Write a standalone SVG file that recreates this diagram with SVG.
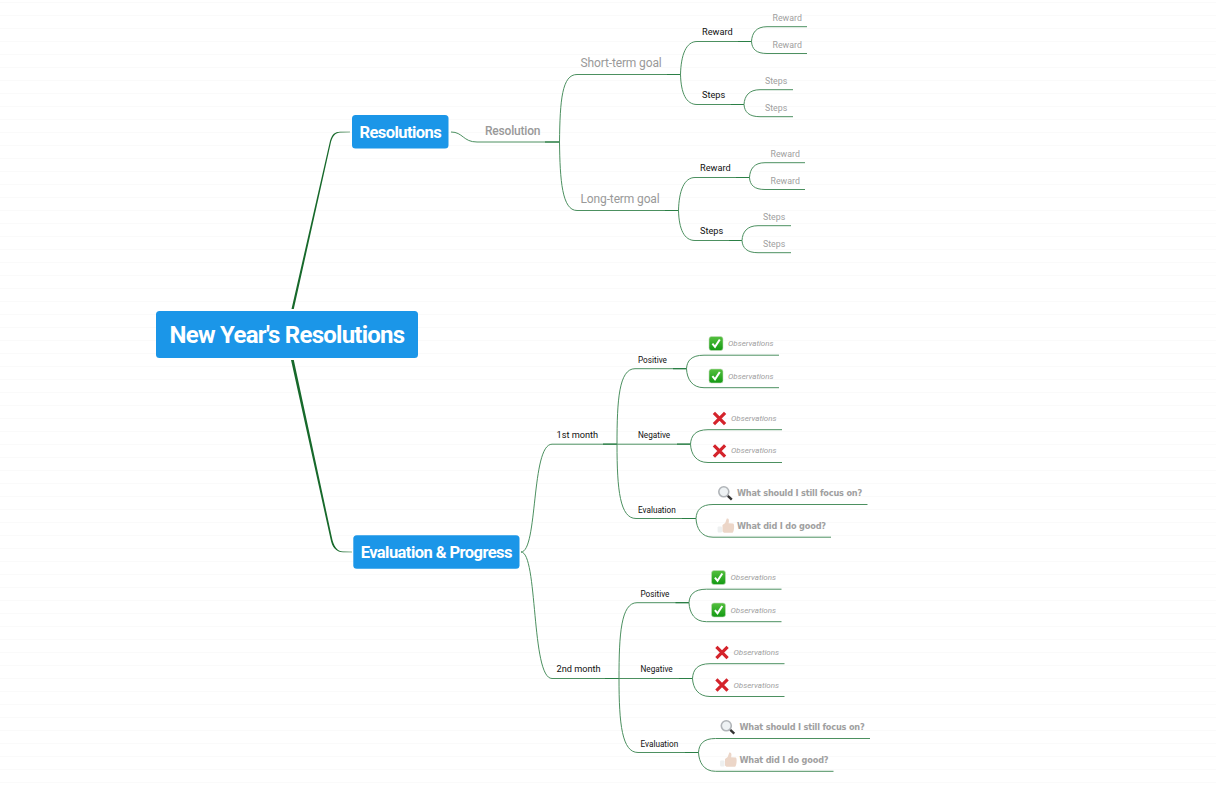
<svg xmlns="http://www.w3.org/2000/svg" width="1216" height="787" viewBox="0 0 1216 787">
<style>
text{font-family:Roboto,"Liberation Sans",sans-serif}
.grid{stroke:#fafafa;stroke-width:1}
.node{fill:#1b96e8}
.c{fill:none;stroke:#4c9060;stroke-width:1}
.d{fill:none;stroke:#2a7f45;stroke-width:1.2}
.main{fill:#17692b;stroke:none}
.root{fill:#fff;font-size:24px;font-weight:700;letter-spacing:-.75px;text-anchor:middle}
.n1{fill:#fff;font-size:16.5px;font-weight:700;letter-spacing:-.56px;text-anchor:middle}
.g12{fill:#999;font-size:12px;letter-spacing:-.13px}
.gb{fill:#999;font-size:12px;font-weight:500;letter-spacing:-.2px}
.k9{fill:#111;font-size:9.2px}
.k8{fill:#111;font-size:8.2px}
.g9{fill:#a0a0a0;font-size:8.8px}
.ob{fill:#a0a0a0;font-size:8px;font-style:italic}
.q{fill:#a0a0a0;font-size:8.2px;font-weight:700;letter-spacing:-.19px;font-family:"DejaVu Sans",sans-serif}
</style>
<defs>
<linearGradient id="gr" x1="0" y1="0" x2="0" y2="1"><stop offset="0" stop-color="#55c03f"/><stop offset="1" stop-color="#129a12"/></linearGradient>
<g id="check"><rect x="-7" y="-7" width="14" height="14" rx="2.5" fill="url(#gr)" stroke="#c4dcbe" stroke-width=".6"/><path d="M-3.6,0.2 L-1,3.4 L3.8,-4" fill="none" stroke="#fff" stroke-width="2"/></g>
<g id="cross"><path d="M-5.6,-5.6 L5.6,5.6 M5.6,-5.6 L-5.6,5.6" fill="none" stroke="#d4232b" stroke-width="3.2"/></g>
<g id="mag"><circle cx="-1.2" cy="-1.2" r="5" fill="#eef2f4" stroke="#b0b4b8" stroke-width="1.6"/><path d="M2.8,2.8 L6.8,6.6" stroke="#333" stroke-width="2.4"/></g>
<g id="thumb"><path d="M-3.5,-1 L-0.8,-3 L0.8,-7.5 C2.8,-8 3.4,-6 2.6,-2.8 L7.2,-2.6 C8.8,-2.2 8.2,5.4 6.6,6.8 L-2,6.8 L-3.5,5.5 Z" fill="#ecd6c8"/><rect x="-8.4" y="0.5" width="4.4" height="6" rx="1" fill="#eef0f0"/></g>
</defs>
<rect width="1216" height="787" fill="#fff"/>
<g id="background">
<path class="grid" d="M0,2.500H1216M0,15.500H1216M0,28.500H1216M0,41.500H1216M0,54.500H1216M0,67.500H1216M0,80.500H1216M0,93.500H1216M0,106.500H1216M0,119.500H1216M0,132.500H1216M0,145.500H1216M0,158.500H1216M0,171.500H1216M0,184.500H1216M0,197.500H1216M0,210.500H1216M0,223.500H1216M0,236.500H1216M0,249.500H1216M0,262.500H1216M0,275.500H1216M0,288.500H1216M0,301.500H1216M0,314.500H1216M0,327.500H1216M0,340.500H1216M0,353.500H1216M0,366.500H1216M0,379.500H1216M0,392.500H1216M0,405.500H1216M0,418.500H1216M0,431.500H1216M0,444.500H1216M0,457.500H1216M0,470.500H1216M0,483.500H1216M0,496.500H1216M0,509.500H1216M0,522.500H1216M0,535.500H1216M0,548.500H1216M0,561.500H1216M0,574.500H1216M0,587.500H1216M0,600.500H1216M0,613.500H1216M0,626.500H1216M0,639.500H1216M0,652.500H1216M0,665.500H1216M0,678.500H1216M0,691.500H1216M0,704.500H1216M0,717.500H1216M0,730.500H1216M0,743.500H1216M0,756.500H1216M0,769.500H1216M0,782.500H1216"/>
</g>
<g id="connectors">
<path class="main" d="M291.500,309 L293.800,309 L331,142 C333,135 336,132.800 340,132.500 L350,132.300 L350,131.700 L340,131.700 C335,131.800 332,134 330,141 Z"/>
<path class="main" d="M291,360 L293.800,360 L331.800,537 C333.500,546 337,551.300 343,551.500 L352,551.700 L352,552.300 L343,552.300 C336,552 332,547 330.500,539 Z"/>
<path class="c" d="M451,132 C463,132 463,142 477,142 L559.500,142"/>
<path class="d" d="M545,142 H559.500"/>
<path class="c" d="M559.500,142 C560,100 562,74.500 577,74.500 H680.500"/>
<path class="c" d="M559.500,142 C560,180 562,210.500 577,210.500 H678.500"/>
<path class="d" d="M667,74.500 H680.500 M665,210.500 H678.500"/>
<path class="c" d="M680.500,74.500 C681,55 686,41.500 697,41.500 H751.500 M680.500,74.500 C681,93 686,104.500 697,104.500 H744"/>
<path class="d" d="M738,41.500 H751.500 M731,104.500 H744"/>
<path class="c" d="M751.500,41.500 C752,33 756,26.700 767,26.700 H807 M751.500,41.500 C752,49 756,53.500 767,53.500 H807"/>
<path class="c" d="M744,104.500 C744.500,96 749,89.700 760,89.700 H793 M744,104.500 C744.500,112 749,116.700 760,116.700 H793"/>
<path class="c" d="M678.500,210.500 C679,191 684,177.500 695,177.500 H749.500 M678.500,210.500 C679,229 684,240.500 695,240.500 H742"/>
<path class="d" d="M736,177.500 H749.500 M729,240.500 H742"/>
<path class="c" d="M749.500,177.500 C750,169 754,162.700 765,162.700 H805 M749.500,177.500 C750,185 754,189.500 765,189.500 H805"/>
<path class="c" d="M742,240.500 C742.500,232 747,225.700 758,225.700 H791 M742,240.500 C742.500,248 747,252.700 758,252.700 H791"/>
<path class="c" d="M521,552 C538,552 531,444.200 552,444.200 H617"/>
<path class="c" d="M521,552 C538,552 531,678.500 552,678.500 H619"/>
<path class="d" d="M603,444.200 H617 M605,678.500 H619"/>
<path class="c" d="M617,444.200 C617,400 619,368.700 635,368.700 H686.500 M617,444.200 H690.500 M617,444.200 C617,490 620,518.500 636,518.500 H696"/>
<path class="d" d="M673,368.700 H686.500 M677,444.200 H690.500 M682,518.500 H696"/>
<path class="c" d="M686.500,368.700 C687,361 691,355.200 704,355.200 H779 M686.500,368.700 C687,379 692,387.700 704,387.700 H779"/>
<path class="c" d="M690.500,444.200 C691,436 695,429.700 708,429.700 H782 M690.500,444.200 C691,454 696,462.500 708,462.500 H782"/>
<path class="c" d="M696,518.500 C696.500,510 701,504.500 713,504.500 H867.500 M696,518.500 C696.500,528 701,537.200 713,537.200 H831"/>
<path class="c" d="M619,678.500 C619,634 621,602.700 637,602.700 H689 M619,678.500 H692.500 M619,678.500 C619,724 622,752.500 638,752.500 H698.500"/>
<path class="d" d="M675.500,602.700 H689 M679,678.500 H692.500 M685,752.500 H698.500"/>
<path class="c" d="M689,602.700 C689.500,595 693.500,589.200 706.500,589.200 H781.500 M689,602.700 C689.500,613 694.500,621.700 706.500,621.700 H781.500"/>
<path class="c" d="M692.500,678.500 C693,670 697,663.700 710,663.700 H784.500 M692.500,678.500 C693,688 698,696.500 710,696.500 H784.500"/>
<path class="c" d="M698.500,752.500 C699,744 703.500,738.500 715.500,738.500 H870 M698.500,752.500 C699,762 703.500,771.300 715.500,771.300 H833.500"/>
</g>
<g id="root"><rect class="node" x="156" y="311" width="262" height="47" rx="3.500"/><text class="root" x="287" y="342.500">New Year's Resolutions</text></g>
<g id="resolutions"><rect class="node" x="352" y="115" width="96.500" height="33.500" rx="3.500"/><text class="n1" x="400.300" y="138">Resolutions</text></g>
<g id="evaluation"><rect class="node" x="353.300" y="535.300" width="166.200" height="33.500" rx="3.500"/><text class="n1" x="436.300" y="557.500">Evaluation &amp; Progress</text></g>
<g id="resolution-label"><text class="gb" x="485" y="135">Resolution</text></g>
<g id="short-term"><text class="g12" x="580.500" y="67">Short-term goal</text></g>
<g id="long-term"><text class="g12" x="580.500" y="203">Long-term goal</text></g>
<g id="st-reward"><text class="k9" x="702" y="35">Reward</text><text class="g9" x="772.500" y="21">Reward</text><text class="g9" x="772.500" y="48">Reward</text></g>
<g id="st-steps"><text class="k9" x="702" y="98">Steps</text><text class="g9" x="765" y="84">Steps</text><text class="g9" x="765" y="111">Steps</text></g>
<g id="lt-reward"><text class="k9" x="700" y="171">Reward</text><text class="g9" x="770.500" y="157">Reward</text><text class="g9" x="770.500" y="184">Reward</text></g>
<g id="lt-steps"><text class="k9" x="700" y="234">Steps</text><text class="g9" x="763" y="220">Steps</text><text class="g9" x="763" y="247">Steps</text></g>
<g id="month1"><text class="k9" x="556.500" y="438">1st month</text></g>
<g id="month2"><text class="k9" x="556.500" y="672">2nd month</text></g>
<g id="m1-positive"><text class="k8" x="638" y="363">Positive</text>
<use href="#check" x="716" y="343.500"/><text class="ob" x="728" y="346">Observations</text>
<use href="#check" x="716" y="376"/><text class="ob" x="728" y="379">Observations</text></g>
<g id="m1-negative"><text class="k8" x="638" y="438">Negative</text>
<use href="#cross" x="719.500" y="418.500"/><text class="ob" x="731" y="421">Observations</text>
<use href="#cross" x="719.500" y="451"/><text class="ob" x="731" y="453">Observations</text></g>
<g id="m1-evaluation"><text class="k8" x="638" y="513">Evaluation</text>
<use href="#mag" x="725" y="493"/><text class="q" x="737" y="496">What should I still focus on?</text>
<use href="#thumb" x="726" y="526"/><text class="q" x="737" y="529">What did I do good?</text></g>
<g id="m2-positive"><text class="k8" x="640.500" y="597">Positive</text>
<use href="#check" x="718.500" y="577.500"/><text class="ob" x="730.500" y="580">Observations</text>
<use href="#check" x="718.500" y="610"/><text class="ob" x="730.500" y="613">Observations</text></g>
<g id="m2-negative"><text class="k8" x="640.500" y="672">Negative</text>
<use href="#cross" x="722" y="652.500"/><text class="ob" x="733.500" y="655">Observations</text>
<use href="#cross" x="722" y="685"/><text class="ob" x="733.500" y="688">Observations</text></g>
<g id="m2-evaluation"><text class="k8" x="640.500" y="747">Evaluation</text>
<use href="#mag" x="727.500" y="727"/><text class="q" x="739.500" y="730">What should I still focus on?</text>
<use href="#thumb" x="728.500" y="760"/><text class="q" x="739.500" y="763">What did I do good?</text></g>
</svg>
